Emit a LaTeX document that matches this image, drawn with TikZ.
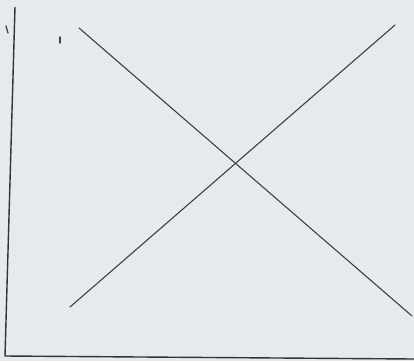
\documentclass[tikz,border=0pt]{standalone}
\begin{document}
\begin{tikzpicture}[x=1pt,y=-1pt,
  pen/.style={draw=black!75, line width=1.1pt, line cap=round},
  axis/.style={draw=black!80, line width=1.4pt}]
\fill[fill={rgb,255:red,230;green,233;blue,238}] (0,0) rectangle (414,361);
\useasboundingbox (0,0) rectangle (414,361);
% axes
\coordinate (top) at (15,7);
\coordinate (origin) at (5,356);
\coordinate (right) at (414,359);
\draw[axis] (top) -- (origin) -- (right);
% crossing lines
\coordinate (a1) at (79,28);
\coordinate (a2) at (412,316);
\coordinate (b1) at (70,307);
\coordinate (b2) at (395,25);
\draw[pen] (a1) -- (a2);
\draw[pen] (b1) -- (b2);
% stray marks
\coordinate (m1) at (6,26);
\coordinate (m1e) at (8,33);
\coordinate (m2) at (60,37);
\coordinate (m2e) at (60,43);
\draw[pen, line width=1.3pt] (m1) -- (m1e);
\draw[pen, line width=1.5pt] (m2) -- (m2e);
\end{tikzpicture}
\end{document}
